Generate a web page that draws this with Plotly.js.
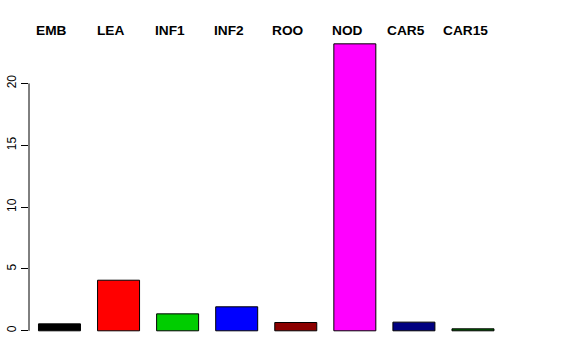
<!DOCTYPE html>
<html>
<head>
<meta charset="utf-8">
<script src="https://cdn.plot.ly/plotly-3.0.1.min.js"></script>
<style>html,body{margin:0;padding:0;background:#fff;}#chart{width:576px;height:360px;}</style>
</head>
<body>
<div id="chart"></div>
<script>
const categories = ["EMB", "LEA", "INF1", "INF2", "ROO", "NOD", "CAR5", "CAR15"];
const values = [0.56, 4.09, 1.37, 1.94, 0.67, 23.2, 0.70, 0.16];
const colors = ["#000000", "#FF0000", "#00CD00", "#0000FF", "#8B0000", "#FF00FF", "#000080", "#006400"];
const yTicks = [0, 5, 10, 15, 20];

const idx = categories.map((c, i) => i);

const trace = {
  type: "bar",
  x: idx,
  y: values,
  marker: { color: colors, line: { color: "#000000", width: 1 } },
  hoverinfo: "skip"
};

const annotations = categories.map((c, i) => ({
  x: i, xref: "x", y: 1.033, yref: "paper",
  text: c, showarrow: false, xshift: -7.7,
  xanchor: "center", yanchor: "middle",
  font: { family: "Liberation Sans, Arial, sans-serif", size: 13.7, color: "#000", weight: "bold" }
}));

const layout = {
  width: 576, height: 360,
  margin: { l: 29, r: 29, t: 40, b: 20, pad: 0 },
  paper_bgcolor: "#fff", plot_bgcolor: "#fff",
  showlegend: false,
  bargap: 0.289,
  xaxis: {
    range: [-0.516, 8.253], showgrid: false, zeroline: false, showline: false,
    showticklabels: false, ticks: ""
  },
  yaxis: {
    range: [-0.744, 23.51], showgrid: false, zeroline: false, showline: false,
    tickvals: yTicks, ticktext: yTicks.map(String), ticks: "outside", ticklen: 7,
    tickcolor: "#000", tickwidth: 1, tickangle: -90,
    tickfont: { family: "Liberation Sans, Arial, sans-serif", size: 12, color: "#000" }
  },
  shapes: [{
    type: "line", xref: "paper", yref: "y", x0: 0, x1: 0,
    y0: yTicks[0], y1: yTicks[yTicks.length - 1],
    line: { color: "#000", width: 1 }
  }],
  annotations: annotations
};

Plotly.newPlot("chart", [trace], layout, { displayModeBar: false, staticPlot: true });
</script>
</body>
</html>
